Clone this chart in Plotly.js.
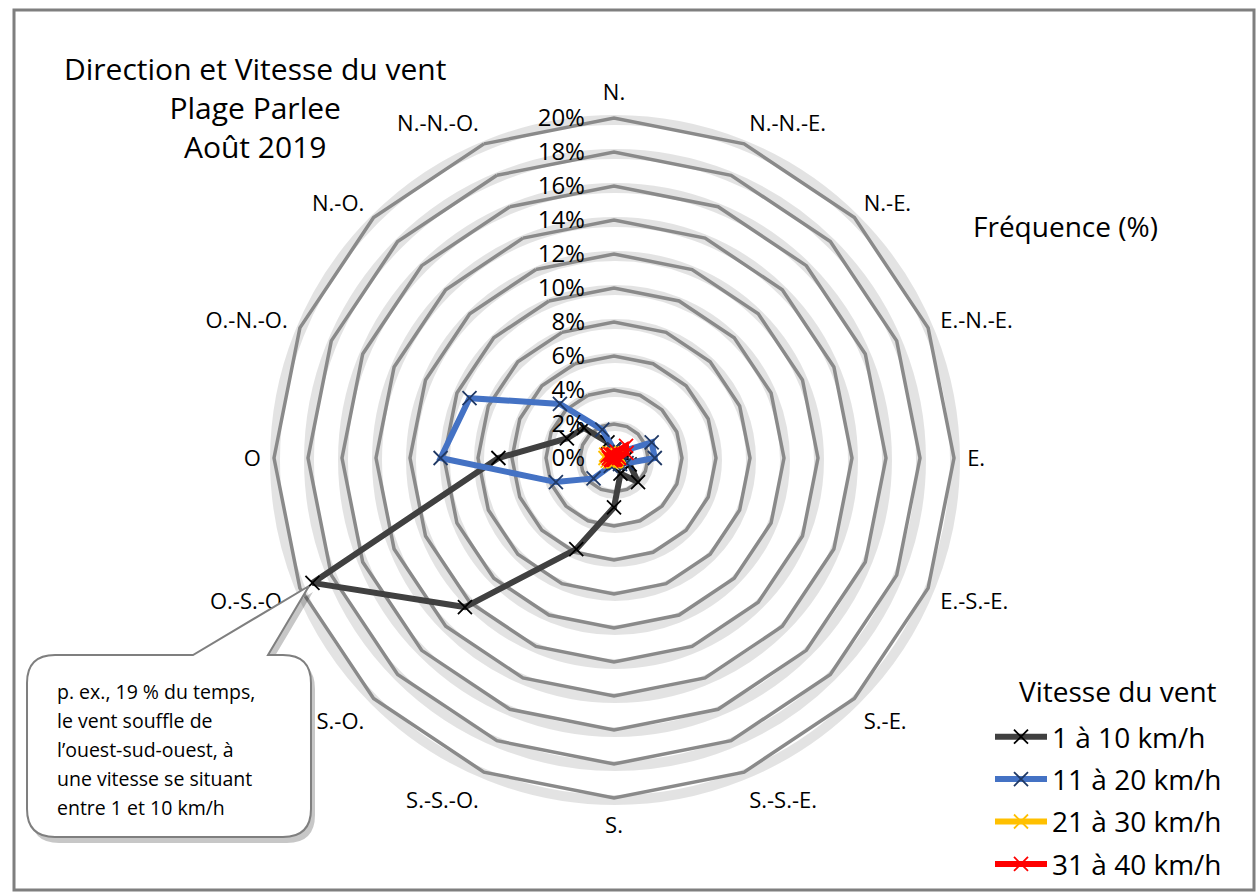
<!DOCTYPE html>
<html>
<head>
<meta charset="utf-8">
<script src="https://cdn.plot.ly/plotly-3.0.1.min.js"></script>
<style>html,body{margin:0;padding:0;background:#fff;}#chart{width:1259px;height:895px;}</style>
</head>
<body>
<div id="chart"></div>
<script>
// Directions (clockwise from North)
const directions = ["N.", "N.-N.-E.", "N.-E.", "E.-N.-E.", "E.", "E.-S.-E.", "S.-E.", "S.-S.-E.",
                    "S.", "S.-S.-O.", "S.-O.", "O.-S.-O.", "O", "O.-N.-O.", "N.-O.", "N.-N.-O."];
// Frequency (%) per speed class
const speed1to10  = [0.5, 0.3, 0.3, 0.5, 0.7, 1.0, 2.0, 1.0, 2.9, 5.8, 12.4, 19.2, 6.8, 3.0, 2.5, 1.0];
const speed11to20 = [0.5, 0.3, 0.5, 2.4, 2.4, 0.8, 0.5, 0.3, 0.3, 0.5, 1.7, 3.7, 10.2, 9.2, 4.5, 1.8];
const speed21to30 = [0.2, 0.2, 0.3, 0.3, 0.2, 0.1, 0.2, 0.2, 0.2, 0.2, 0.3, 0.4, 0.5, 0.5, 0.4, 0.3];
const speed31to40 = [0.2, 0.4, 1.0, 0.8, 0.3, 0.1, 0.1, 0.1, 0.1, 0.1, 0.2, 0.2, 0.3, 0.4, 0.3, 0.2];
const seriesNames = ["1 à 10 km/h", "11 à 20 km/h", "21 à 30 km/h", "31 à 40 km/h"];
const radialTicks = [0, 2, 4, 6, 8, 10, 12, 14, 16, 18, 20];
const radialTickText = ["0%", "2%", "4%", "6%", "8%", "10%", "12%", "14%", "16%", "18%", "20%"];
const calloutLines = ["p. ex., 19 % du temps,", "le vent souffle de", "l’ouest-sud-ouest, à",
                      "une vitesse se situant", "entre 1 et 10 km/h"];

const W = 1259, H = 895;
const px = x => x / W, py = y => 1 - y / H;
const close = a => a.concat([a[0]]);
const styles = [
  {line: "#404040", marker: "#000000"},
  {line: "#4472C4", marker: "#1F3864"},
  {line: "#FFC000", marker: "#FFC000"},
  {line: "#FF0000", marker: "#FF0000"}
];
const allSeries = [speed1to10, speed11to20, speed21to30, speed31to40];
const font = "Open Sans, Noto Sans, sans-serif";
const NBSP = "\u00a0";
// pad labels on the right so they sit left of the vertical axis
const paddedTickText = radialTickText.map(t => t + NBSP.repeat(4));

// shadow subplot (only grid)
const traces = [{
  type: "scatterpolar", subplot: "polar", r: [], theta: [], showlegend: false, hoverinfo: "skip"
}];
allSeries.forEach((s, i) => traces.push({
  type: "scatterpolar",
  subplot: "polar2",
  mode: "lines+markers",
  r: close(s),
  theta: close(directions),
  name: seriesNames[i],
  legendgroup: "g" + i,
  line: {color: styles[i].line, width: 6},
  marker: {symbol: "x-thin-open", size: 14, color: styles[i].marker, line: {color: styles[i].marker, width: 1.8}},
  cliponaxis: false
}));

// Callout geometry (pixels)
const bx0 = 27, bx1 = 311, by0 = 655, by1 = 837, rad = 28;
const tip = [309, 586], pb0 = 193, pb1 = 268;
function calloutPath(dx, dy) {
  const X = x => px(x + dx).toFixed(5), Y = y => py(y + dy).toFixed(5);
  return "M " + X(bx0 + rad) + " " + Y(by0) +
    " L " + X(pb0) + " " + Y(by0) +
    " L " + X(tip[0]) + " " + Y(tip[1]) +
    " L " + X(pb1) + " " + Y(by0) +
    " L " + X(bx1 - rad) + " " + Y(by0) +
    " Q " + X(bx1) + " " + Y(by0) + " " + X(bx1) + " " + Y(by0 + rad) +
    " L " + X(bx1) + " " + Y(by1 - rad) +
    " Q " + X(bx1) + " " + Y(by1) + " " + X(bx1 - rad) + " " + Y(by1) +
    " L " + X(bx0 + rad) + " " + Y(by1) +
    " Q " + X(bx0) + " " + Y(by1) + " " + X(bx0) + " " + Y(by1 - rad) +
    " L " + X(bx0) + " " + Y(by0 + rad) +
    " Q " + X(bx0) + " " + Y(by0) + " " + X(bx0 + rad) + " " + Y(by0) + " Z";
}

const cx = 614, cy = 458, R = 340;
const dom = (ox, oy) => ({x: [px(cx - R + ox), px(cx + R + ox)], y: [py(cy + R + oy), py(cy - R + oy)]});

const annotations = [
  {xref: "paper", yref: "paper", x: px(255), y: py(46), xanchor: "center", yanchor: "top",
   text: "Direction et Vitesse du vent<br>Plage Parlee<br>Août 2019", showarrow: false,
   font: {size: 30, family: font}, align: "center"},
  {xref: "paper", yref: "paper", x: px(1065), y: py(226), xanchor: "center", yanchor: "middle",
   text: "Fréquence (%)", showarrow: false, font: {size: 28, family: font}},
  {xref: "paper", yref: "paper", x: px(1118), y: py(691), xanchor: "center", yanchor: "middle",
   text: "Vitesse du vent", showarrow: false, font: {size: 28, family: font}}
];
calloutLines.forEach((t, i) => annotations.push({
  xref: "paper", yref: "paper", x: px(55), y: py(691 + i * 29), xanchor: "left", yanchor: "middle",
  text: t, showarrow: false, align: "left", font: {size: 19.5, family: font}
}));

const layout = {
  width: W, height: H,
  margin: {l: 0, r: 0, t: 0, b: 0},
  paper_bgcolor: "#ffffff",
  font: {family: font, color: "#000"},
  showlegend: true,
  polar: {
    domain: dom(1, 2),
    gridshape: "linear",
    bgcolor: "rgba(0,0,0,0)",
    angularaxis: {
      direction: "clockwise", rotation: 90,
      categoryorder: "array", categoryarray: directions,
      showgrid: false, showline: true, linecolor: "rgba(0,0,0,0.11)", linewidth: 10,
      ticks: "", showticklabels: false
    },
    radialaxis: {
      range: [0, 20], tickmode: "array", tickvals: radialTicks,
      angle: 90, showline: false, ticks: "", showticklabels: false,
      gridcolor: "rgba(0,0,0,0.11)", gridwidth: 10
    }
  },
  polar2: {
    domain: dom(0, 0),
    gridshape: "linear",
    bgcolor: "rgba(0,0,0,0)",
    angularaxis: {
      direction: "clockwise", rotation: 90,
      categoryorder: "array", categoryarray: directions,
      showgrid: false, showline: true, linecolor: "#8a8a8a", linewidth: 3.5,
      ticks: "outside", ticklen: 7, tickcolor: "rgba(0,0,0,0)",
      tickfont: {size: 22, family: font}
    },
    radialaxis: {
      range: [0, 20], tickmode: "array", tickvals: radialTicks, ticktext: paddedTickText,
      angle: 90, tickangle: 90, side: "counterclockwise",
      showline: false, ticks: "",
      gridcolor: "#8a8a8a", gridwidth: 3.5,
      tickfont: {size: 24, family: font}
    }
  },
  legend: {
    x: px(990), y: py(712), xanchor: "left", yanchor: "top",
    bgcolor: "rgba(255,255,255,0)",
    font: {size: 28, family: font},
    tracegroupgap: 3,
    itemwidth: 52
  },
  annotations: annotations,
  shapes: [
    {type: "rect", xref: "paper", yref: "paper", x0: px(14), x1: px(1254), y0: py(890), y1: py(10),
     line: {color: "#7f7f7f", width: 3}, layer: "below"},
    {type: "path", xref: "paper", yref: "paper", layer: "above", path: calloutPath(4, 6),
     line: {width: 0}, fillcolor: "rgba(0,0,0,0.22)"},
    {type: "path", xref: "paper", yref: "paper", layer: "above", path: calloutPath(0, 0),
     line: {color: "#7f7f7f", width: 2}, fillcolor: "#ffffff"}
  ]
};

Plotly.newPlot("chart", traces, layout, {displayModeBar: false, staticPlot: true});
</script>
</body>
</html>
